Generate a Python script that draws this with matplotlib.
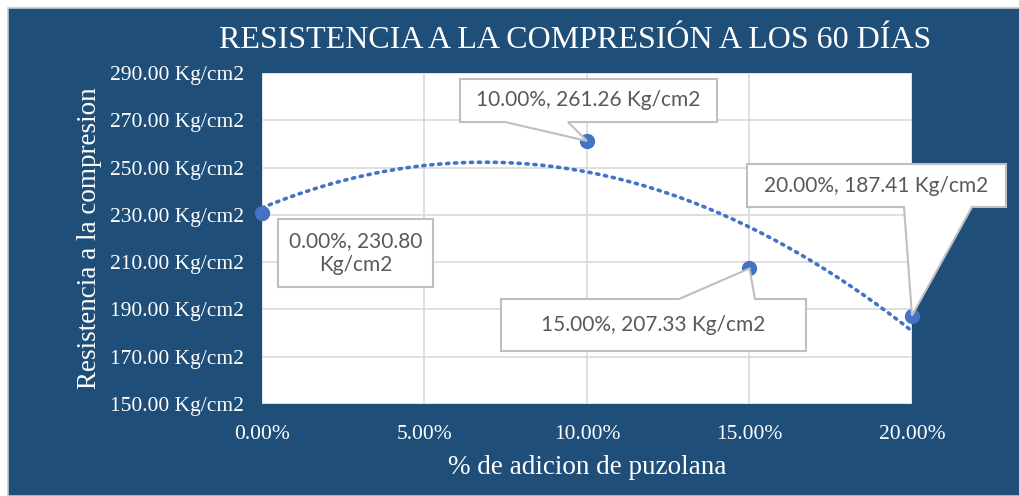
import numpy as np
import matplotlib.pyplot as plt
from matplotlib.patches import Rectangle, Polygon
from matplotlib.transforms import IdentityTransform
from matplotlib.ticker import FuncFormatter

# data
adicion = [0.00, 0.10, 0.15, 0.20]
resistencia = [230.80, 261.26, 207.33, 187.41]
etiquetas = ['0.00%, 230.80\nKg/cm2', '10.00%, 261.26 Kg/cm2',
             '15.00%, 207.33 Kg/cm2', '20.00%, 187.41 Kg/cm2']
y_ticks = [150, 170, 190, 210, 230, 250, 270, 290]
x_ticks = [0.00, 0.05, 0.10, 0.15, 0.20]

bg = '#1F4E79'
pt_color = '#4472C4'
W, H = 1020, 496

fig = plt.figure(figsize=(W / 100, H / 100), dpi=100)
fig.patch.set_facecolor('white')
fig.patches.append(Rectangle((8 / W, 0), 1, 1 - 8 / H, transform=fig.transFigure,
                             facecolor=bg, edgecolor='#C8C8C8', linewidth=1.2, zorder=-1))

ax = fig.add_axes([262 / W, 1 - 404 / H, 650 / W, 331 / H])
ax.set_facecolor('white')

# trend line (polynomial, order 2)
coef = np.polyfit(adicion, resistencia, 2)
xs = np.linspace(0, 0.2, 200)
ax.plot(xs, np.polyval(coef, xs), linestyle=(0, (0.6, 1.6)), color=pt_color,
        linewidth=2.6, dash_capstyle='round', zorder=3)
ax.plot(adicion, resistencia, 'o', color=pt_color, markersize=10, zorder=4, clip_on=False)

ax.set_xlim(0, 0.2)
ax.set_ylim(150, 290)
ax.set_xticks(x_ticks)
ax.set_yticks(y_ticks)
ax.xaxis.set_major_formatter(FuncFormatter(lambda v, p: f'{v * 100:.2f}%'))
ax.yaxis.set_major_formatter(FuncFormatter(lambda v, p: f'{v:.2f} Kg/cm2'))
ax.grid(True, color='#D9D9D9', linewidth=1.2)
ax.set_axisbelow(True)
for s in ax.spines.values():
    s.set_visible(False)
ax.tick_params(length=0, colors='white', labelsize=15.5)
ax.tick_params(axis='y', pad=13)
ax.tick_params(axis='x', pad=15)
for lab in ax.get_xticklabels() + ax.get_yticklabels():
    lab.set_family('Liberation Serif')

ax.set_ylabel('Resistencia a la compresion', family='Liberation Serif', fontsize=19.5,
              color='white', labelpad=6)
ax.set_xlabel('% de adicion de puzolana', family='Liberation Serif', fontsize=19.5,
              color='white', labelpad=8)
fig.text(575 / W, 1 - 40 / H, 'RESISTENCIA A LA COMPRESIÓN A LOS 60 DÍAS', ha='center',
         va='center', family='Liberation Serif', fontsize=23, color='white')

# callout boxes (image pixels: x0, y0, x1, y1), pointer side and base
boxes = [(278, 219, 433, 287), (460, 79, 717, 122), (501, 299, 806, 351), (747, 164, 1006, 207)]
pointers = [None, ('bottom', 505, 568), ('top', 679, 755), ('bottom', 904, 972)]

for x, y, txt, (x0, y0, x1, y1), ptr in zip(adicion, resistencia, etiquetas, boxes, pointers):
    tx, ty = ax.transData.transform((x, y))
    # to bottom-origin pixels
    b0, b1 = H - y1, H - y0
    if ptr is None:
        verts = [(x0, b1), (x1, b1), (x1, b0), (x0, b0)]
    elif ptr[0] == 'bottom':
        verts = [(x0, b1), (x1, b1), (x1, b0), (ptr[2], b0), (tx, ty), (ptr[1], b0), (x0, b0)]
    else:
        verts = [(x0, b1), (ptr[1], b1), (tx, ty), (ptr[2], b1), (x1, b1), (x1, b0), (x0, b0)]
    fig.patches.append(Polygon(verts, closed=True, transform=IdentityTransform(),
                               facecolor='white', edgecolor='#BFBFBF', linewidth=1.5,
                               zorder=5))
    fig.text((x0 + x1) / 2 / W, 1 - (y0 + y1) / 2 / H, txt, ha='center', va='center',
             fontsize=15, family='Lato', color='#595959', linespacing=1.3, zorder=6)

fig.savefig('out.png', dpi=100)
